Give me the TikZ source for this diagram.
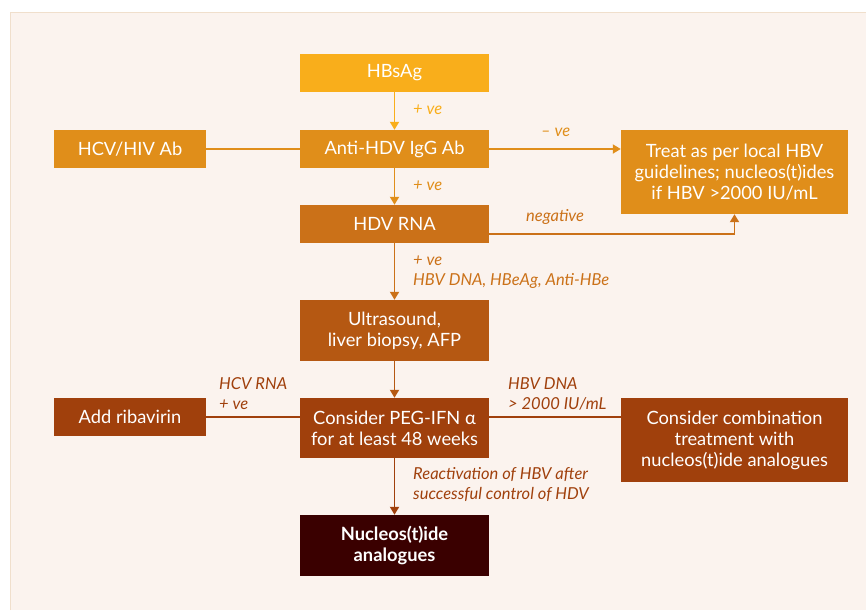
\documentclass[tikz,border=0pt]{standalone}
\usepackage{fontspec}
\setmainfont{Lato}
\usetikzlibrary{arrows.meta}
\definecolor{cgold}{HTML}{F9AE1B}
\definecolor{corange}{HTML}{E08E1A}
\definecolor{cdark}{HTML}{CB7118}
\definecolor{cbrown}{HTML}{B55812}
\definecolor{crust}{HTML}{A0400C}
\definecolor{cmaroon}{HTML}{3A0000}
\definecolor{cpanel}{HTML}{FBF3EE}
\definecolor{cedge}{HTML}{F0DFCC}
\tikzset{
  box/.style={rectangle, inner sep=0pt, text=white, align=center,
    font=\fontsize{18.3}{21}\selectfont},
  lbl/.style={anchor=west, align=left, inner sep=0pt,
    font=\fontsize{16.5}{20}\selectfont\itshape},
  arr/.style={line width=1.8pt, -{Triangle[width=9pt,length=8pt]}},
  ln/.style={line width=1.8pt},
}
\begin{document}
\begin{tikzpicture}[x=1pt,y=-1pt]
\useasboundingbox (0,0) rectangle (866,610);
\fill[white] (0,0) rectangle (866,610);
\fill[cpanel] (10,12) rectangle (866,610);
\draw[cedge, line width=1.2pt] (10.6,610) -- (10.6,12.6) -- (866,12.6);

\node[box, fill=cgold, minimum width=189pt, minimum height=38pt] (hbsag) at (394.5,73) {HBsAg};
\node[box, fill=corange, minimum width=189pt, minimum height=38pt] (anti) at (394.5,149) {Anti-HDV IgG Ab};
\node[box, fill=corange, minimum width=152pt, minimum height=38pt] (hcv) at (130,149) {HCV/HIV Ab};
\node[box, fill=corange, minimum width=227pt, minimum height=84pt] (treat) at (734.5,172) {Treat as per local HBV\\guidelines; nucleos(t)ides\\if HBV >2000 IU/mL};
\node[box, fill=cdark, minimum width=189pt, minimum height=38pt] (hdv) at (394.5,224) {HDV RNA};
\node[box, fill=cbrown, minimum width=189pt, minimum height=61pt] (ultra) at (394.5,330.5) {Ultrasound,\\liver biopsy, AFP};
\node[box, fill=crust, minimum width=189pt, minimum height=60pt] (peg) at (394.5,428) {Consider PEG-IFN α\\for at least 48 weeks};
\node[box, fill=crust, minimum width=152pt, minimum height=38pt] (rib) at (130,417) {Add ribavirin};
\node[box, fill=crust, minimum width=227pt, minimum height=84pt] (comb) at (734.5,440) {Consider combination\\treatment with\\nucleos(t)ide analogues};
\node[box, fill=cmaroon, minimum width=189pt, minimum height=61pt, font=\fontsize{18.3}{21}\selectfont\bfseries] (nuc) at (394.5,545.5) {Nucleos(t)ide\\analogues};

\draw[arr, cgold] (hbsag.south) -- (anti.north);
\draw[ln, corange] (hcv.east) -- (anti.west);
\draw[arr, corange] (anti.east) -- (anti.east -| treat.west);
\draw[arr, corange] (anti.south) -- (hdv.north);
\draw[arr, cdark] ([yshift=-10pt]hdv.east) -| (treat.south);
\draw[arr, cdark] (hdv.south) -- (ultra.north);
\draw[arr, cbrown] (ultra.south) -- (peg.north);
\draw[ln, crust] (rib.east) -- (rib.east -| peg.west);
\draw[ln, crust] ([yshift=11pt]peg.east) -- ([yshift=11pt]peg.east -| comb.west);
\draw[arr, crust] (peg.south) -- (nuc.north);

\node[lbl, text=cgold] (l1) at (413,110) {+ ve};
\node[lbl, text=corange] (l2) at (541,132) {– ve};
\node[lbl, text=corange] (l3) at (413,186) {+ ve};
\node[lbl, text=cdark] (l4) at (526,217) {negative};
\node[lbl, text=cdark] (l5) at (413,272) {+ ve\\HBV DNA, HBeAg, Anti-HBe};
\node[lbl, text=crust] (l6) at (219,394) {HCV RNA\\+ ve};
\node[lbl, text=crust] (l7) at (508,394) {HBV DNA\\> 2000 IU/mL};
\node[lbl, text=crust] (l8) at (413,485) {Reactivation of HBV after\\successful control of HDV};
\end{tikzpicture}
\end{document}
